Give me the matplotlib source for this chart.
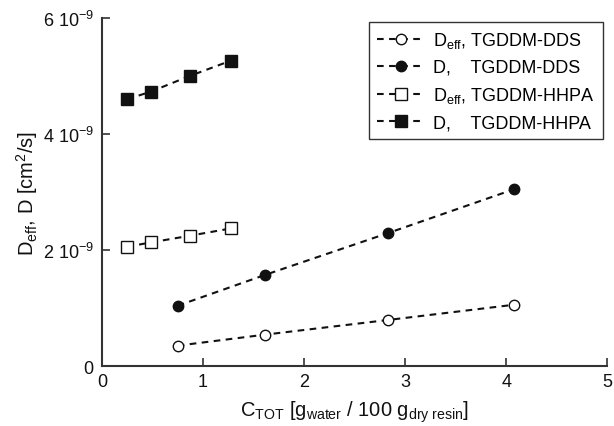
import matplotlib
matplotlib.use('Agg')
import matplotlib.pyplot as plt
from matplotlib.ticker import FixedLocator, FuncFormatter

plt.rcParams['font.family'] = ['Liberation Sans', 'DejaVu Sans']
plt.rcParams['mathtext.fontset'] = 'custom'
plt.rcParams['mathtext.rm'] = 'Liberation Sans'
plt.rcParams['mathtext.it'] = 'Liberation Sans'
plt.rcParams['axes.unicode_minus'] = False

# ── Data ──────────────────────────────────────────────────────────────────────
c_dds = [0.75, 1.61, 2.83, 4.08]
deff_dds = [0.354e-9, 0.543e-9, 0.796e-9, 1.059e-9]
d_dds = [1.042e-9, 1.570e-9, 2.292e-9, 3.049e-9]

c_hhpa = [0.25, 0.485, 0.867, 1.277]
deff_hhpa = [2.057e-9, 2.132e-9, 2.246e-9, 2.373e-9]
d_hhpa = [4.597e-9, 4.729e-9, 4.997e-9, 5.262e-9]

labels = [r'D$_\mathrm{eff}$, TGDDM-DDS',
          r'D,    TGDDM-DDS',
          r'D$_\mathrm{eff}$, TGDDM-HHPA',
          r'D,    TGDDM-HHPA']

yticks = [0, 2e-9, 4e-9, 6e-9]
xticks = [0, 1, 2, 3, 4, 5]

# ── Figure ────────────────────────────────────────────────────────────────────
fig = plt.figure(figsize=(6.14, 4.27), dpi=100)
ax = fig.add_axes([0.166, 0.140, 0.823, 0.816])

line_kw = dict(color='#111111', linestyle=(0, (3.2, 2.6)), linewidth=1.5,
               markeredgecolor='#111111', markeredgewidth=1.0)

ax.plot(c_dds, deff_dds, marker='o', markersize=7.5, markerfacecolor='white',
        label=labels[0], **line_kw)
ax.plot(c_dds, d_dds, marker='o', markersize=7.5, markerfacecolor='#111111',
        label=labels[1], **line_kw)
ax.plot(c_hhpa, deff_hhpa, marker='s', markersize=8, markerfacecolor='white',
        label=labels[2], **line_kw)
ax.plot(c_hhpa, d_hhpa, marker='s', markersize=9, markerfacecolor='#111111',
        label=labels[3], **line_kw)

ax.set_xlim(0, 5)
ax.set_ylim(0, 6e-9)
ax.xaxis.set_major_locator(FixedLocator(xticks))
ax.yaxis.set_major_locator(FixedLocator(yticks))


def yfmt(v, pos):
    if v == 0:
        return '0'
    return r'%d 10$^{\mathrm{-9}}$' % round(v / 1e-9)


ax.yaxis.set_major_formatter(FuncFormatter(yfmt))

for s in ['top', 'right']:
    ax.spines[s].set_visible(False)
for s in ['left', 'bottom']:
    ax.spines[s].set_color('#333333')
    ax.spines[s].set_linewidth(1.5)

ax.tick_params(direction='in', length=6, width=1.2, color='#333333',
               labelsize=13, labelcolor='#111111')
ax.tick_params(axis='y', pad=6)
ax.tick_params(axis='x', pad=5)

ax.set_xlabel(r'C$_\mathrm{TOT}$ [g$_\mathrm{water}$ / 100 g$_\mathrm{dry\ resin}$]',
              fontsize=14.5, color='#111111', labelpad=6)
ax.set_ylabel(r'D$_\mathrm{eff}$, D [cm$^2$/s]', fontsize=14.5, color='#111111',
              labelpad=2)

leg = ax.legend(loc='upper right', bbox_to_anchor=(0.992, 0.9885), numpoints=1,
                fancybox=False, framealpha=1, edgecolor='#333333',
                fontsize=13, handlelength=2.6, handletextpad=0.5,
                labelspacing=0.5, borderpad=0.45, borderaxespad=0.0)
leg.get_frame().set_linewidth(1.0)

fig.savefig('out.png', dpi=100)
